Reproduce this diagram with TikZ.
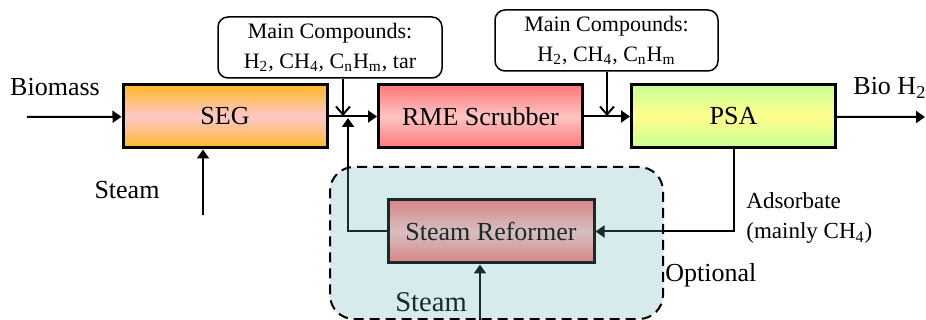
\documentclass[tikz,border=0pt]{standalone}
\usepackage{fontspec}
\setmainfont{Liberation Serif}
\usetikzlibrary{arrows.meta}
\definecolor{seg-top}{HTML}{FFB82A}
\definecolor{seg-mid}{HTML}{FFC8C8}
\definecolor{rme-top}{HTML}{FF7878}
\definecolor{rme-mid}{HTML}{FFC4C4}
\definecolor{psa-top}{HTML}{C8FF96}
\definecolor{psa-mid}{HTML}{FFFF8C}
\definecolor{opt-fill}{RGB}{99,175,179}
\tikzstyle{text-node}=[inner sep=0pt,font=\fontsize{13}{15}\selectfont]
\tikzstyle{unit-node}=[draw=black,line width=1.5pt,minimum width=102pt,minimum height=31.5pt,font=\fontsize{13}{15}\selectfont]
\tikzstyle{note-node}=[draw=black,line width=0.75pt,fill=white,rounded corners=5pt,minimum width=112pt,minimum height=30.5pt,inner sep=0pt,align=center,font=\fontsize{11}{15}\selectfont]
\tikzstyle{opt-node}=[draw=black,line width=1pt,dash pattern=on 5pt off 3pt,rounded corners=12pt,fill=opt-fill,fill opacity=0.25,minimum width=166.5pt,minimum height=76pt]
\tikzstyle{black-line}=[draw=black,line width=1pt]

\begin{document}
\begin{tikzpicture}[x=0.5pt,y=-0.5pt]
        \useasboundingbox (0,0) rectangle (926,320);

        \begin{scope}
            \node (seg)[unit-node,top color=seg-top,bottom color=seg-top,middle color=seg-mid] at (225,116.5) {SEG};
            \node (rme)[unit-node,top color=rme-top,bottom color=rme-top,middle color=rme-mid] at (480.5,116.5) {RME Scrubber};
            \node (psa)[unit-node,top color=psa-top,bottom color=psa-top,middle color=psa-mid] at (733.5,116.5) {PSA};
            \node (ref)[unit-node,top color=rme-top,bottom color=rme-top,middle color=rme-mid,minimum width=103pt] at (491,231.5) {Steam Reformer};
            \node (c1)[note-node] at (330,47.5) {Main Compounds:\\H\textsubscript{2}, CH\textsubscript{4}, C\textsubscript{n}H\textsubscript{m}, tar};
            \node (c2)[note-node,minimum width=111.5pt] at (606.5,40.5) {Main Compounds:\\H\textsubscript{2}, CH\textsubscript{4}, C\textsubscript{n}H\textsubscript{m}};
            \node (biomass)[text-node] at (55,87) {Biomass};
            \node (bioh2)[text-node,anchor=west] at (853,88) {Bio H\textsubscript{2}};
            \node (steam1)[text-node] at (127,190) {Steam};
            \node (steam2)[text-node,font=\fontsize{14.3}{16}\selectfont] at (431,302) {Steam};
            \node (ads)[text-node,anchor=west,align=left,font=\fontsize{11.5}{15}\selectfont] at (746,218) {Adsorbate\\(mainly CH\textsubscript{4})};
            \node (optional)[text-node,anchor=west] at (665,275) {Optional};
            \coordinate (in1) at (27,117);
            \coordinate (out1) at (925,117);
            \coordinate (in2) at (203,215);
            \coordinate (in3) at (480,322);
            \coordinate (j1) at (343,116);
            \coordinate (j2) at (348,118);
            \coordinate (j3) at (607,116);
        \end{scope}

        \begin{scope}[>={Triangle[length=4.5pt,width=6pt]}, every edge/.style=black-line]
            \path [->] (in1) edge node {} (seg);
            \path [->] (seg) edge node {} (rme);
            \path [->] (rme) edge node {} (psa);
            \path [->] (psa) edge node {} (out1);
            \path [->] (in2) edge node {} (seg.south -| in2);
            \path [->] (in3) edge node {} (ref.south -| in3);
            \path [-{Straight Barb[length=4pt,width=7pt]}] (c1.south -| j1) edge node {} (j1);
            \path [-{Straight Barb[length=4pt,width=7pt]}] (c2.south -| j3) edge node {} (j3);
            \draw [->,black-line] (ref.west) -| (j2);
            \draw [->,black-line] (psa.south) |- (ref.east);
        \end{scope}

        \node (opt)[opt-node] at (496.5,243) {};

    \end{tikzpicture}
\end{document}
